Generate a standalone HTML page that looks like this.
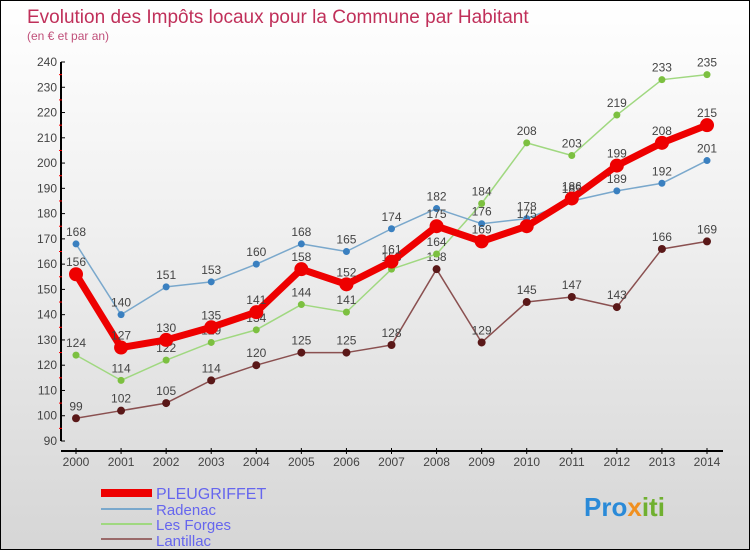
<!DOCTYPE html>
<html><head><meta charset="utf-8"><style>
body{margin:0;}
#c{width:750px;height:550px;position:relative;box-sizing:border-box;border:1px solid #000;background:linear-gradient(#fff,#f0f0f0 40%,#d6d6d6);font-family:"Liberation Sans",sans-serif;overflow:hidden}
</style></head><body>
<div id="c">
<svg width="750" height="550" style="position:absolute;left:0;top:0" id="svg">
<text x="26" y="22" font-size="19" fill="#c0305a">Evolution des Impôts locaux pour la Commune par Habitant</text>
<text x="26" y="39" font-size="12" fill="#c0507a">(en € et par an)</text>
<g id="axes"></g><g id="series"></g>
<g>
<line x1="100" y1="492" x2="151" y2="492" stroke="#e00" stroke-width="8"/>
<text x="155" y="498" font-size="16" fill="#6666ee">PLEUGRIFFET</text>
<line x1="100" y1="508" x2="151" y2="508" stroke="#7aa8cc" stroke-width="2"/>
<text x="155" y="514" font-size="15" fill="#6666ee">Radenac</text>
<line x1="100" y1="523" x2="151" y2="523" stroke="#a0d880" stroke-width="2"/>
<text x="155" y="529" font-size="15" fill="#6666ee">Les Forges</text>
<line x1="100" y1="538" x2="151" y2="538" stroke="#9a6a6a" stroke-width="2"/>
<text x="155" y="545" font-size="15" fill="#6666ee">Lantillac</text>
</g>
<text x="583" y="515" font-size="26" font-weight="bold" fill="#2a8ad8">Pro<tspan fill="#f09020">x</tspan><tspan fill="#70b030">iti</tspan></text>
</svg>
</div>
<script>
const years=[2000,2001,2002,2003,2004,2005,2006,2007,2008,2009,2010,2011,2012,2013,2014];
const pleugriffet=[156,127,130,135,141,158,152,161,175,169,175,186,199,208,215];
const radenac=[168,140,151,153,160,168,165,174,182,176,178,185,189,192,201];
const lesForges=[124,114,122,129,134,144,141,158,164,184,208,203,219,233,235];
const lantillac=[99,102,105,114,120,125,125,128,158,129,145,147,143,166,169];
const yTicks=[90,100,110,120,130,140,150,160,170,180,190,200,210,220,230,240];
const NS="http://www.w3.org/2000/svg";
function x(i){return 75+i*(706-75)/(years.length-1);}
function y(v){return 440-(v-90)*(440-61)/150;}
function mk(t,a,p){const e=document.createElementNS(NS,t);for(const k in a)e.setAttribute(k,a[k]);p.appendChild(e);return e;}
const ax=document.getElementById('axes');
const yAxis=mk('line',{x1:60,y1:61,x2:60,y2:440,stroke:'#000','stroke-width':2},ax);


yTicks.forEach(v=>{
 mk('line',{x1:60,y1:y(v),x2:64,y2:y(v),stroke:'#000'},ax);
 if(v<240) mk('line',{x1:58,y1:y(v+5),x2:61,y2:y(v+5),stroke:'#f00'},ax);
 const t=mk('text',{x:56,y:y(v)+4,'font-size':12,fill:'#444','text-anchor':'end'},ax);t.textContent=v;
 
 
});
const xAxis=mk('line',{x1:60,y1:450,x2:722,y2:450,stroke:'#000','stroke-width':2},ax);


years.forEach((yr,i)=>{
 mk('line',{x1:x(i),y1:447,x2:x(i),y2:453,stroke:'#000'},ax);
 const t=mk('text',{x:x(i),y:465,'font-size':12,fill:'#444','text-anchor':'middle'},ax);t.textContent=yr;
 
 
});
const sg=document.getElementById('series');
function draw(name,vals,col,dot,w,r){
 const g=mk('g',{},sg);
 
 
 const l=mk('polyline',{points:vals.map((v,i)=>x(i)+','+y(v)).join(' '),fill:'none',stroke:col,'stroke-width':w,'stroke-linejoin':'round'},g);
 
 
 vals.forEach((v,i)=>{
  const c=mk('circle',{cx:x(i),cy:y(v),r:r,fill:dot},g);
  
  
  const t=mk('text',{x:x(i),y:y(v)-8,'font-size':12,fill:'#444','text-anchor':'middle'},g);t.textContent=v;
  
  
 });
}
draw('lantillac',lantillac,'#8a5050','#5a1818',1.5,4);
draw('les-forges',lesForges,'#a0d880','#7cc040',1.5,3.5);
draw('radenac',radenac,'#7aa8cc','#3a80c0',1.5,3.5);
draw('pleugriffet',pleugriffet,'#ee0000','#ee0000',7,7);
</script>
</body></html>
